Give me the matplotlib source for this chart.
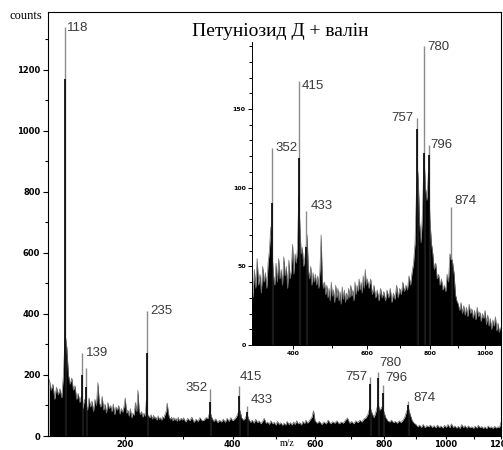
import numpy as np
import matplotlib.pyplot as plt

# ---- main spectrum (counts) ----
main_mz = np.concatenate([np.arange(100, 300, 2), np.arange(300, 600, 4), np.arange(600, 1201, 6)])
main_counts = [
    # 100 - 298, step 2
    185, 150, 170, 120, 160, 135, 155, 125, 200, 335,
    290, 200, 170, 190, 150, 165, 120, 140, 110, 130,
    90, 120, 105, 85, 125, 95, 115, 80, 120, 100,
    175, 110, 95, 130, 85, 105, 75, 110, 90, 100,
    80, 105, 70, 95, 85, 100, 72, 90, 78, 95,
    125, 75, 85, 65, 90, 60, 75, 68, 110, 80,
    150, 85, 70, 80, 62, 75, 65, 120, 70, 65,
    60, 70, 55, 68, 58, 62, 52, 66, 55, 60,
    52, 64, 58, 70, 80, 108, 75, 60, 55, 62,
    50, 60, 52, 58, 48, 62, 50, 55, 58, 52,
    # 300 - 596, step 4
    60, 46, 58, 50, 62, 45, 55, 48, 60, 50,
    52, 60, 58, 80, 60, 48, 56, 44, 52, 46,
    55, 45, 58, 48, 60, 50, 55, 62, 75, 85,
    60, 52, 58, 72, 55, 45, 52, 42, 55, 44,
    50, 40, 48, 58, 42, 46, 38, 50, 40, 45,
    36, 48, 38, 44, 35, 42, 36, 48, 38, 44,
    36, 46, 38, 50, 40, 44, 36, 48, 40, 52,
    42, 48, 55, 62, 83,
    # 600 - 1200, step 6
    50, 42, 48, 38, 46, 40, 52, 40, 47, 42,
    50, 40, 46, 42, 52, 59, 42, 48, 40, 50,
    44, 52, 46, 56, 60, 72, 95, 75, 60, 80,
    105, 85, 95, 80, 60, 50, 46, 52, 44, 48,
    42, 50, 44, 52, 62, 82, 90, 68, 50, 42,
    38, 30, 36, 28, 38, 27, 34, 30, 36, 28,
    34, 27, 36, 28, 33, 26, 35, 28, 38, 27,
    40, 28, 33, 26, 32, 25, 38, 28, 34, 26,
    33, 27, 30, 25, 32, 26, 35, 27, 31, 25,
    30, 24, 33, 27, 30, 25, 32, 26, 30, 27,
    45,
]
main_peak_mz = [118, 139, 144, 235, 352, 415, 433, 757, 780, 796, 874]
main_peak_top = [1340, 272, 224, 410, 154, 165, 98, 194, 211, 167, 115]
main_peak_black = [1170, 200, 160, 272, 110, 130, 80, 170, 190, 140, 100]
main_labels = ['118', '139', '', '235', '352', '415', '433', '757', '780', '796', '874']

# ---- inset (zoomed) spectrum ----
inset_mz = np.concatenate([np.arange(306, 601, 3), np.arange(605, 1061, 5)])
inset_counts = [
    # 306 - 600, step 3
    42, 30, 48, 36, 55, 38, 45, 33, 50, 40,
    46, 36, 52, 60, 75, 58, 45, 38, 52, 40,
    55, 42, 48, 38, 56, 44, 50, 36, 54, 42,
    48, 64, 45, 58, 52, 62, 95, 75, 58, 62,
    50, 55, 62, 70, 48, 42, 50, 38, 46, 40,
    45, 38, 44, 36, 48, 70, 42, 36, 40, 32,
    38, 30, 36, 28, 40, 31, 35, 27, 38, 30,
    36, 28, 34, 26, 37, 29, 35, 27, 33, 29,
    36, 30, 38, 31, 35, 28, 40, 32, 38, 34,
    42, 35, 40, 33, 44, 36, 48, 38, 42,
    # 605 - 1060, step 5
    36, 42, 32, 38, 30, 35, 28, 36, 30, 34,
    28, 35, 30, 36, 27, 33, 29, 38, 30, 36,
    32, 40, 34, 38, 35, 44, 38, 46, 52, 65,
    100, 110, 78, 65, 85, 120, 100, 92, 110, 80,
    65, 58, 48, 52, 42, 45, 38, 42, 35, 38,
    34, 45, 40, 58, 56, 52, 45, 32, 28, 26,
    22, 27, 20, 25, 19, 24, 18, 26, 20, 23,
    17, 22, 16, 24, 18, 21, 15, 20, 17, 22,
    13, 19, 12, 17, 10, 16, 12, 18, 9, 14,
    8, 12,
]
inset_peak_mz = [352, 415, 433, 757, 780, 796, 874]
inset_peak_top = [125, 168, 85, 144, 190, 127, 88]
inset_peak_black = [90, 119, 62, 137, 122, 121, 54]
inset_labels = ['352', '415', '433', '757', '780', '796', '874']

# label offsets in pixels (dx, dy, ha)
main_offsets = [(2, -1, 'left'), (4, 0, 'left'), None, (3, 0, 'left'), (-2, 1, 'right'),
                (0, 9, 'left'), (3, 6, 'left'), (-3, 0, 'right'), (1, 9, 'left'),
                (2, 7, 'left'), (5, 3, 'left')]
inset_offsets = [(3, 0, 'left'), (3, -5, 'left'), (4, 5, 'left'), (-4, 0, 'right'),
                 (3, -1, 'left'), (2, 0, 'left'), (3, 6, 'left')]


def fwd(x):
    return np.sqrt(np.clip(x, 0, None))


def inv(x):
    return np.square(x)


def draw_spectrum(ax, mz, counts, pk_mz, pk_top, pk_black, labels, offsets):
    ax.fill_between(mz, 0, counts, color='black', lw=0)
    ax.plot(mz, counts, color='#707070', lw=0.5)
    ax.vlines(pk_mz, 0, pk_top, color='#8c8c8c', lw=1.0)
    ax.vlines(pk_mz, 0, pk_black, color='black', lw=1.2)
    for x, y, lab, off in zip(pk_mz, pk_top, labels, offsets):
        if not lab:
            continue
        dx, dy, ha = off
        ax.annotate(lab, (x, y), xytext=(dx, dy), textcoords='offset pixels',
                    ha=ha, va='center', fontsize=9.5, family='Liberation Sans',
                    color='#3a3a3a')


fig = plt.figure(figsize=(5.03, 4.5), dpi=100)

ax = fig.add_axes([48 / 503, 14 / 450, 453 / 503, 424 / 450])
ax.set_xscale('function', functions=(fwd, inv))
draw_spectrum(ax, main_mz, main_counts, main_peak_mz, main_peak_top, main_peak_black,
              main_labels, main_offsets)
ax.set_xlim(98.6, 1200)
ax.set_ylim(0, 1390)
ax.set_xticks([200, 400, 600, 800, 1000, 1200])
ax.set_xticks([300, 500, 700, 900, 1100], minor=True)
ax.set_yticks([0, 200, 400, 600, 800, 1000, 1200])
ax.set_yticks([100, 300, 500, 700, 900, 1100, 1300], minor=True)
ax.set_xticklabels(['200', '400', '600', '800', '1000', '1200'])
ax.tick_params(which='major', length=3.5, width=0.8, direction='out', pad=2,
               labelsize=6)
ax.tick_params(axis='x', which='major', length=2.5, pad=0.5)
ax.tick_params(which='minor', length=2, width=0.8, direction='out')
for lab in ax.get_xticklabels() + ax.get_yticklabels():
    lab.set_fontweight('bold')
    lab.set_family('DejaVu Sans')
for s in ax.spines.values():
    s.set_linewidth(0.8)
ax.text(0.513, 0.953, 'Петуніозид Д + валін', transform=ax.transAxes,
        ha='center', va='center', fontsize=14, family='Liberation Serif')
fig.text(26 / 503, 1 - 16 / 450, 'counts', ha='center', va='center',
         fontsize=9, family='Liberation Serif')
fig.text(287 / 503, 1 - 443 / 450, 'm/z', ha='center', va='center',
         fontsize=7, family='Liberation Serif')

# inset
axi = fig.add_axes([252 / 503, 105 / 450, 248 / 503, 303 / 450])
axi.set_xscale('function', functions=(fwd, inv))
draw_spectrum(axi, inset_mz, inset_counts, inset_peak_mz, inset_peak_top,
              inset_peak_black, inset_labels, inset_offsets)
axi.set_xlim(307, 1058)
axi.set_ylim(0, 192.6)
axi.set_xticks([400, 600, 800, 1000])
axi.set_xticks([500, 700, 900], minor=True)
axi.set_xticklabels(['400', '600', '800', '1000'])
axi.set_yticks([0, 50, 100, 150])
axi.set_yticks([v for v in range(10, 191, 10) if v % 50], minor=True)
axi.tick_params(which='major', length=3, width=0.7, direction='out', pad=1.5,
                labelsize=4.5)
axi.tick_params(which='minor', length=2, width=0.7, direction='out')
for lab in axi.get_xticklabels() + axi.get_yticklabels():
    lab.set_fontweight('bold')
    lab.set_family('DejaVu Sans')
axi.spines['top'].set_visible(False)
axi.spines['right'].set_visible(False)
axi.spines['left'].set_linewidth(0.7)
axi.spines['bottom'].set_linewidth(0.7)

fig.savefig('out.png', dpi=100)
